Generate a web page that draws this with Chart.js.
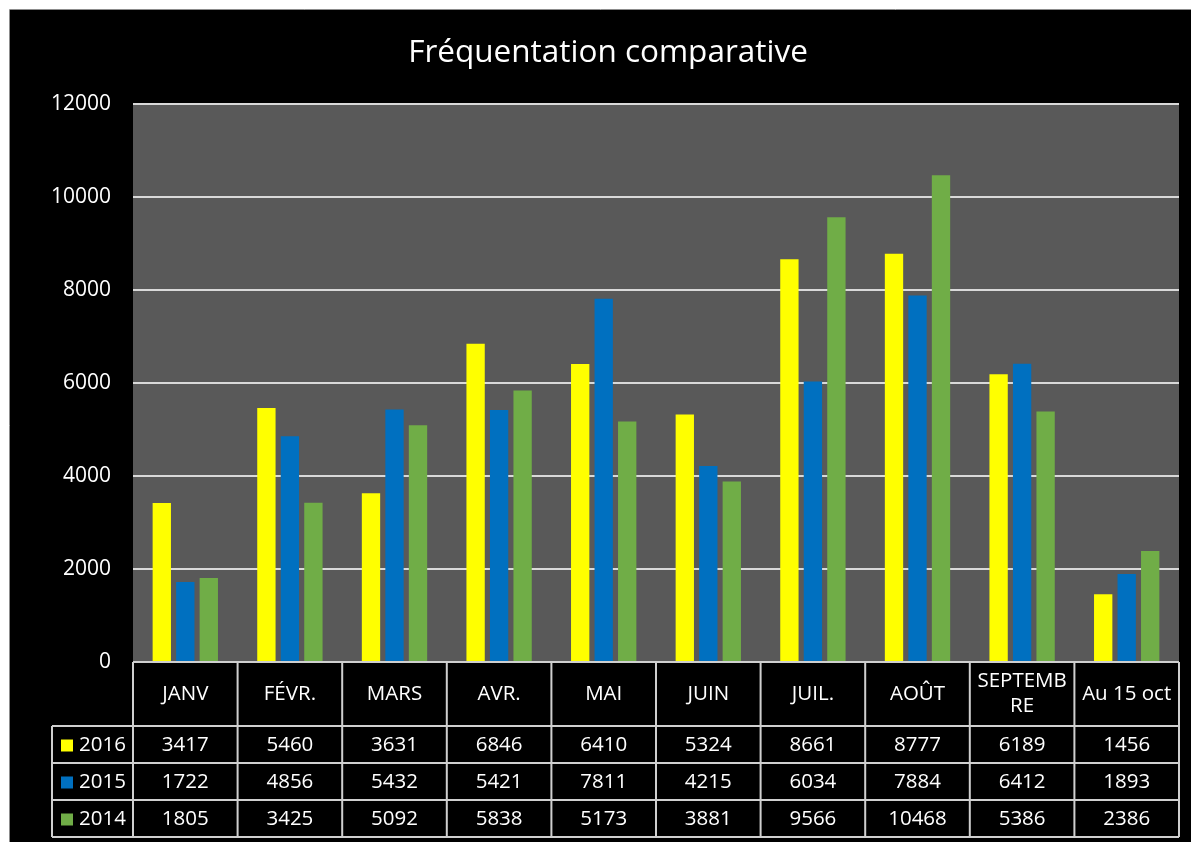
<!DOCTYPE html>
<html>
<head>
<meta charset="utf-8">
<script src="https://cdn.jsdelivr.net/npm/chart.js@4.4.1/dist/chart.umd.min.js"></script>
<style>
  html, body { margin: 0; padding: 0; background: #ffffff; overflow: hidden; }
  canvas { display: block; }
</style>
</head>
<body>
<canvas id="chart" width="1191" height="842"></canvas>
<script>
// Monthly attendance, three seasons compared
const chartTitle = 'Fréquentation comparative';
const months = ['JANV', 'FÉVR.', 'MARS', 'AVR.', 'MAI', 'JUIN', 'JUIL.', 'AOÛT', 'SEPTEMBRE', 'Au 15 oct'];
const seriesNames = ['2016', '2015', '2014'];
const values2016 = [3417, 5460, 3631, 6846, 6410, 5324, 8661, 8777, 6189, 1456];
const values2015 = [1722, 4856, 5432, 5421, 7811, 4215, 6034, 7884, 6412, 1893];
const values2014 = [1805, 3425, 5092, 5838, 5173, 3881, 9566, 10468, 5386, 2386];
const yTicks = [0, 2000, 4000, 6000, 8000, 10000, 12000];
const seriesColors = ['#FFFF00', '#0070C0', '#70AD47'];

const FONT = '"Open Sans", "DejaVu Sans", sans-serif';
const GRID = '#d9d9d9';
const TABLE_LINE = '#cfcfcf';

// Frame, plot background and title
const backdrop = {
  id: 'backdrop',
  beforeDraw(chart) {
    const { ctx, width, height, chartArea } = chart;
    ctx.save();
    ctx.fillStyle = '#ffffff';
    ctx.fillRect(0, 0, width, height);
    ctx.fillStyle = '#000000';
    ctx.fillRect(10, 10, width - 10, height - 10);
    ctx.strokeStyle = '#8c8c8c';
    ctx.lineWidth = 1;
    ctx.beginPath();
    ctx.moveTo(9.5, height);
    ctx.lineTo(9.5, 9.5);
    ctx.lineTo(width, 9.5);
    ctx.stroke();
    ctx.fillStyle = '#595959';
    ctx.fillRect(chartArea.left, chartArea.top, chartArea.right - chartArea.left, chartArea.bottom - chartArea.top);
    ctx.fillStyle = '#ffffff';
    ctx.font = '31.5px ' + FONT;
    ctx.textAlign = 'center';
    ctx.textBaseline = 'middle';
    ctx.fillText(chartTitle, 608, 53);
    ctx.restore();
  }
};

// Split a label into lines that fit the cell width
function wrapText(ctx, text, maxWidth) {
  if (ctx.measureText(text).width <= maxWidth) return [text];
  const lines = [];
  let cur = '';
  for (const ch of text) {
    if (cur && ctx.measureText(cur + ch).width > maxWidth) {
      lines.push(cur);
      cur = ch;
    } else {
      cur += ch;
    }
  }
  if (cur) lines.push(cur);
  return lines;
}

// Data table under the category axis
const dataTable = {
  id: 'dataTable',
  afterDraw(chart) {
    const { ctx, chartArea } = chart;
    const xs = chart.scales.x;
    const n = months.length;
    const colW = (chartArea.right - chartArea.left) / n;
    const top = chartArea.bottom;
    const headerH = 64;
    const rowH = 37;
    const legendLeft = 52;
    const rowsTop = top + headerH;
    const bottom = rowsTop + rowH * seriesNames.length;

    ctx.save();
    ctx.strokeStyle = TABLE_LINE;
    ctx.lineWidth = 2;
    ctx.beginPath();
    ctx.moveTo(chartArea.left, top);
    ctx.lineTo(chartArea.right, top);
    for (let r = 0; r <= seriesNames.length; r++) {
      const y = rowsTop + r * rowH;
      ctx.moveTo(legendLeft, y);
      ctx.lineTo(chartArea.right, y);
    }
    for (let i = 0; i <= n; i++) {
      const x = chartArea.left + i * colW;
      ctx.moveTo(x, top);
      ctx.lineTo(x, bottom);
    }
    ctx.moveTo(legendLeft, rowsTop);
    ctx.lineTo(legendLeft, bottom);
    ctx.stroke();

    ctx.fillStyle = '#ffffff';
    ctx.font = '20.5px ' + FONT;
    ctx.textAlign = 'center';
    ctx.textBaseline = 'middle';

    // Category header cells
    months.forEach((m, i) => {
      const cx = xs.getPixelForValue(i);
      const lines = wrapText(ctx, m, colW - 10);
      const lh = 25;
      const y0 = top + headerH / 2 - (lines.length - 1) * lh / 2;
      lines.forEach((ln, k) => ctx.fillText(ln, cx, y0 + k * lh));
    });

    // Value rows with legend keys
    chart.data.datasets.forEach((ds, r) => {
      const cy = rowsTop + r * rowH + rowH / 2 + 1;
      ctx.fillStyle = ds.backgroundColor;
      ctx.fillRect(61, cy - 6, 12, 12);
      ctx.fillStyle = '#ffffff';
      ctx.textAlign = 'left';
      ctx.fillText(ds.label, 79, cy);
      ctx.textAlign = 'center';
      ds.data.forEach((v, i) => {
        ctx.fillText(String(v), xs.getPixelForValue(i), cy);
      });
    });
    ctx.restore();
  }
};

new Chart(document.getElementById('chart'), {
  type: 'bar',
  data: {
    labels: months,
    datasets: [
      { label: seriesNames[0], data: values2016, backgroundColor: seriesColors[0] },
      { label: seriesNames[1], data: values2015, backgroundColor: seriesColors[1] },
      { label: seriesNames[2], data: values2014, backgroundColor: seriesColors[2] }
    ]
  },
  options: {
    responsive: false,
    animation: false,
    devicePixelRatio: 1,
    layout: { padding: { top: 104, bottom: 180, left: 10, right: 12 } },
    datasets: {
      bar: { categoryPercentage: 0.674, barPercentage: 0.78 }
    },
    plugins: {
      legend: { display: false },
      title: { display: false },
      tooltip: { enabled: false }
    },
    scales: {
      x: { display: false },
      y: {
        min: 0,
        max: 12000,
        afterFit(scale) { scale.width = 123; },
        afterBuildTicks(scale) { scale.ticks = yTicks.map(v => ({ value: v })); },
        border: { display: false },
        grid: { color: GRID, lineWidth: 2, drawTicks: false },
        ticks: {
          color: '#ffffff',
          padding: 22,
          font: { family: FONT, size: 21 },
          callback: v => String(v)
        }
      }
    }
  },
  plugins: [backdrop, dataTable]
});
</script>
</body>
</html>
